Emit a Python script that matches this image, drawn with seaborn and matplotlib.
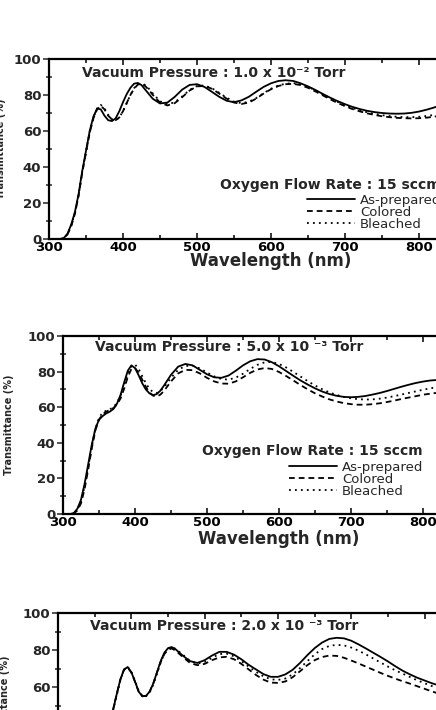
import numpy as np
import pandas as pd
import matplotlib
matplotlib.use("Agg")
import matplotlib.pyplot as plt
from matplotlib.ticker import MultipleLocator
import seaborn as sns

# ---------------- data ----------------
WL_A = [300, 310, 315, 320, 325, 330, 335, 340, 345, 350, 355, 360, 365, 370, 375,
        380, 385, 390, 395, 400, 405, 410, 415, 420, 425, 430, 435, 440,
        450, 460, 470, 480, 490, 500, 510, 520, 530, 540, 550, 560, 570, 580, 590,
        600, 610, 620, 630, 640, 650, 660, 670, 680, 690, 700, 710, 720, 730, 740,
        750, 760, 770, 780, 790, 800, 810, 820, 830, 840, 850]

WL_C = [300, 310, 320, 330, 340, 345, 350, 355, 360, 365, 370, 375, 380, 385, 390,
        395, 400, 405, 410, 415, 420, 425, 430, 435, 440, 445, 450, 455, 460,
        470, 480, 490, 500, 510, 520, 530, 540, 550, 560, 570, 580, 590, 600, 610,
        620, 630, 640, 650, 660, 670, 680, 690, 700, 710, 720, 730, 740, 750, 760,
        770, 780, 790, 800, 810, 820, 830, 840, 850]

# Panel 1 : 1.0 x 10^-2 Torr
P1_AS = [0, 0, 0, 0.5, 3, 8, 15, 25, 38, 49, 60, 68, 72.5, 72, 68.5, 66, 65.5, 67, 71, 76,
         80.5, 84, 86.3, 86.7, 85.5, 83, 80.5, 78,
         75.3, 75.8, 79, 83, 85.6, 86, 84.5, 81.8, 79, 76.8, 76, 77, 79, 81.8, 84.5, 86.5,
         87.8, 88.2, 87.8, 86.5, 84.8, 82.8, 80.6, 78.5, 76.6, 74.9, 73.4, 72.2, 71.2, 70.5,
         70, 69.7, 69.6, 69.7, 70.1, 70.8, 71.8, 73, 74.5, 76, 77.5]
P1_COL = [0, 0, 0, 0.3, 2.5, 7, 14, 24, 37, 48, 59, 67, 72, 74, 72, 68.5, 66.5, 66, 67.5, 71,
          75.5, 80, 83.5, 85.8, 86.2, 85, 82.8, 80.2,
          75.8, 74.2, 75.5, 78.8, 82.5, 84.8, 85, 83.5, 80.8, 78, 75.8, 75, 75.8, 78, 80.8,
          83.2, 85, 86, 86.2, 85.5, 84, 82, 79.8, 77.6, 75.6, 73.8, 72.2, 70.9, 69.8, 68.9,
          68.2, 67.7, 67.3, 67.1, 67, 67.1, 67.4, 67.9, 68.6, 69.5, 70.5]
P1_BL = [0, 0, 0, 0.3, 2.5, 7.5, 14.5, 24.5, 37.5, 48.5, 59.5, 67.5, 72.5, 74.5, 72.5, 69,
         66.5, 66, 67.5, 71, 75.5, 80, 83.8, 86, 86.5, 85.5, 83.5, 81,
         76.5, 74.8, 76, 79.2, 82.8, 85, 85.3, 83.8, 81.2, 78.5, 76.3, 75.5, 76.2, 78.3, 81,
         83.5, 85.3, 86.3, 86.6, 86, 84.6, 82.6, 80.4, 78.2, 76.2, 74.4, 72.8, 71.5, 70.4,
         69.5, 68.8, 68.3, 67.9, 67.7, 67.7, 67.9, 68.3, 68.9, 69.7, 70.6, 71.6]

# Panel 2 : 5.0 x 10^-3 Torr
P2_AS = [0, 0, 0.5, 3, 8, 17, 28, 39, 48, 53, 55, 56.5, 57.5, 59, 62, 67, 74, 80.5, 83.5, 82,
         78, 73.5, 70, 67.8, 66.8, 67.3, 69.2, 72,
         78.2, 82.8, 84.3, 83.5, 81, 78.5, 76.8, 76.5, 77.8, 80.5, 83.5, 85.8, 87, 86.8, 85.3,
         83, 80.3, 77.6, 75, 72.7, 70.6, 68.8, 67.4, 66.4, 65.8, 65.6, 65.8, 66.3, 67.1, 68,
         69.1, 70.3, 71.5, 72.6, 73.6, 74.4, 75, 75.3, 75.4, 75.4, 75.3]
P2_COL = [0, 0, 0.3, 2, 6, 14, 25, 37, 47, 53, 56, 57.5, 58.5, 59.5, 61.5, 65, 70.5, 77, 81.5,
          82, 79.5, 75.5, 71.5, 68.3, 66.5, 66, 67, 69,
          74.5, 79, 81, 80.8, 79, 76.5, 74.5, 73.3, 73.2, 74.5, 76.8, 79.3, 81.2, 82, 81.5,
          79.8, 77.5, 75, 72.4, 70, 67.8, 66, 64.4, 63.2, 62.3, 61.7, 61.4, 61.4, 61.7, 62.2,
          62.9, 63.7, 64.6, 65.4, 66.2, 67, 67.6, 68.1, 68.5, 68.8, 69]
P2_BL = [0, 0, 0.4, 2.5, 7, 15.5, 26.5, 38, 48, 54, 57, 58, 58.8, 60, 62.5, 66.5, 72.5, 79, 83,
         84, 81.5, 77.5, 73.5, 70.3, 68.5, 68, 69, 71,
         76.5, 81, 83.2, 83.3, 81.8, 79.5, 77.3, 75.8, 75.5, 76.6, 78.8, 81.5, 83.8, 85.2, 85.4,
         84.3, 82.3, 79.8, 77.2, 74.6, 72.2, 70.1, 68.3, 66.9, 65.8, 65, 64.5, 64.3, 64.4, 64.8,
         65.4, 66.2, 67.1, 68, 68.9, 69.8, 70.6, 71.3, 71.9, 72.4, 72.8]

# Panel 3 : 2.0 x 10^-3 Torr
P3_AS = [0, 0, 0, 0.5, 4, 8, 13, 19, 25.5, 31.5, 38, 47.5, 56, 64, 69.5, 70.8, 68, 63, 57.5,
         55, 55.2, 57.5, 62, 68, 74, 78.5, 81, 81.6, 80.5,
         77, 74, 73, 74.5, 77, 79, 79, 77.5, 75, 72, 69.5, 67, 65.5, 65.5, 66.8, 69.3, 73, 77.2,
         81, 84, 86, 86.6, 86.3, 85, 83, 80.8, 78.5, 76.2, 73.8, 71.2, 68.8, 66.8, 65, 63.5,
         62, 60.8, 59.8, 59, 58.2]
P3_COL = [0, 0, 0, 0.5, 4, 8, 13, 19, 25.5, 31.5, 38, 47.5, 56, 64, 69.3, 70.5, 67.8, 62.8,
          57.5, 55, 55.2, 57.5, 62, 67.8, 73.5, 77.8, 80.2, 80.8, 79.8,
          76.3, 73, 71.8, 72.5, 74.5, 76, 76.3, 75, 72.5, 69.5, 66.5, 64, 62.4, 62.2, 63, 65.3,
          68.5, 71.8, 74.5, 76.2, 77, 76.8, 75.8, 74.3, 72.7, 71, 69.3, 67.6, 66, 64.5, 63.1,
          61.8, 60.4, 59, 57.6, 56.3, 55.1, 54, 53]
P3_BL = [0, 0, 0, 0.5, 4, 8, 12.8, 18.8, 25, 31, 37.5, 47, 55.5, 63.5, 69.3, 70.8, 68.3, 63.3,
         58, 55.2, 55, 57, 61.3, 67.2, 73.2, 78, 80.8, 81.5, 80.7,
         77.5, 74.2, 72.6, 73.5, 75.8, 77.8, 78, 76.6, 74, 71, 68.2, 65.8, 64.2, 63.8, 64.6,
         66.8, 70.2, 74, 77.6, 80.5, 82.2, 82.8, 82.5, 81.3, 79.6, 77.6, 75.4, 73.2, 71, 69,
         67.2, 65.4, 63.6, 62, 60.5, 59.2, 58, 57, 56]

SAMPLES = ["As-prepared", "Colored", "Bleached"]
PRESSURE_LABELS = ["Vacuum Pressure : 1.0 x 10\u207b\u00b2 Torr",
                   "Vacuum Pressure : 5.0 x 10 \u207b\u00b3 Torr",
                   "Vacuum Pressure : 2.0 x 10 \u207b\u00b3 Torr"]
FLOW_LABEL = "Oxygen Flow Rate : 15 sccm"
X_LABEL = "Wavelength (nm)"
Y_LABEL = "Transmittance (%)"
X_TICKS = [300, 400, 500, 600, 700, 800, 900]
Y_TICKS = [0, 20, 40, 60, 80, 100]

PANELS = [
    (WL_A, [P1_AS, P1_COL, P1_BL]),
    (WL_A, [P2_AS, P2_COL, P2_BL]),
    (WL_C, [P3_AS, P3_COL, P3_BL]),
]

# ---------------- style ----------------
sns.set_style("ticks")
plt.rcParams["font.family"] = ["DejaVu Sans"]
plt.rcParams["font.weight"] = "bold"

W, H = 436, 710
fig = plt.figure(figsize=(W / 100, H / 100), dpi=100)

# (left, top, width, height) in pixels
LAYOUT = [(49, 59, 444, 180), (63, 336, 432, 178), (58, 613, 440, 185)]
TITLE_POS = [(0.074, 0.922), (0.074, 0.938), (0.073, 0.930)]
FLOW_POS = [(0.385, 0.300), (0.322, 0.354), (0.322, 0.354)]
LEG_POS = [(0.581, 0.252), (0.523, 0.299), (0.523, 0.299)]
YLAB_X = [-0.097, -0.113, -0.108]
XLAB_Y = [-0.075, -0.09, -0.09]

dash_map = {"As-prepared": "", "Colored": (3.2, 2.2), "Bleached": (1, 2.3)}
pal = {s: "black" for s in SAMPLES}

for i, (wl, series) in enumerate(PANELS):
    l, t, w, h = LAYOUT[i]
    ax = fig.add_axes([l / W, 1 - (t + h) / H, w / W, h / H])
    df = pd.DataFrame({
        "Wavelength": np.concatenate([np.asarray(wl, float)] * 3),
        "T": np.concatenate([np.asarray(s, float) for s in series]),
        "Sample": np.repeat(SAMPLES, len(wl)),
    })
    sns.lineplot(data=df, x="Wavelength", y="T", hue="Sample", style="Sample",
                 hue_order=SAMPLES, style_order=SAMPLES, palette=pal, dashes=dash_map,
                 linewidth=1.3, estimator=None, legend=False, ax=ax)
    ax.set_xlim(300, 900)
    ax.set_ylim(0, 100)
    ax.set_xticks(X_TICKS)
    ax.set_yticks(Y_TICKS)
    ax.xaxis.set_minor_locator(MultipleLocator(50))
    ax.yaxis.set_minor_locator(MultipleLocator(10))
    ax.tick_params(axis="x", which="both", direction="in", top=True, labelsize=9.5,
                   pad=1.5, width=1.1, colors="black")
    ax.tick_params(axis="x", which="major", length=4)
    ax.tick_params(axis="x", which="minor", length=3)
    ax.tick_params(axis="y", which="major", direction="out", length=4, width=1.1,
                   labelsize=9.5, pad=1.5)
    ax.tick_params(axis="y", which="minor", direction="inout", length=5, width=1.1)
    for sp in ax.spines.values():
        sp.set_linewidth(1.6)
        sp.set_color("black")
    ax.set_xlabel(X_LABEL, fontsize=12, fontweight="bold")
    ax.set_ylabel(Y_LABEL, fontsize=7, fontweight="bold")
    ax.xaxis.set_label_coords(0.5, XLAB_Y[i])
    ax.yaxis.set_label_coords(YLAB_X[i], 0.5)

    ax.text(TITLE_POS[i][0], TITLE_POS[i][1], PRESSURE_LABELS[i], transform=ax.transAxes,
            fontsize=10, fontweight="bold", ha="left", va="center")
    ax.text(FLOW_POS[i][0], FLOW_POS[i][1], FLOW_LABEL, transform=ax.transAxes,
            fontsize=10, fontweight="bold", ha="left", va="center")
    handles = ax.get_lines()[:3]
    leg = ax.legend(handles, SAMPLES, loc="upper left", bbox_to_anchor=LEG_POS[i],
                    frameon=False, borderpad=0, borderaxespad=0, handlelength=3.65,
                    handletextpad=0.38, labelspacing=-0.08,
                    prop={"size": 9.5, "weight": "normal"})

fig.savefig("out.png", dpi=100)
